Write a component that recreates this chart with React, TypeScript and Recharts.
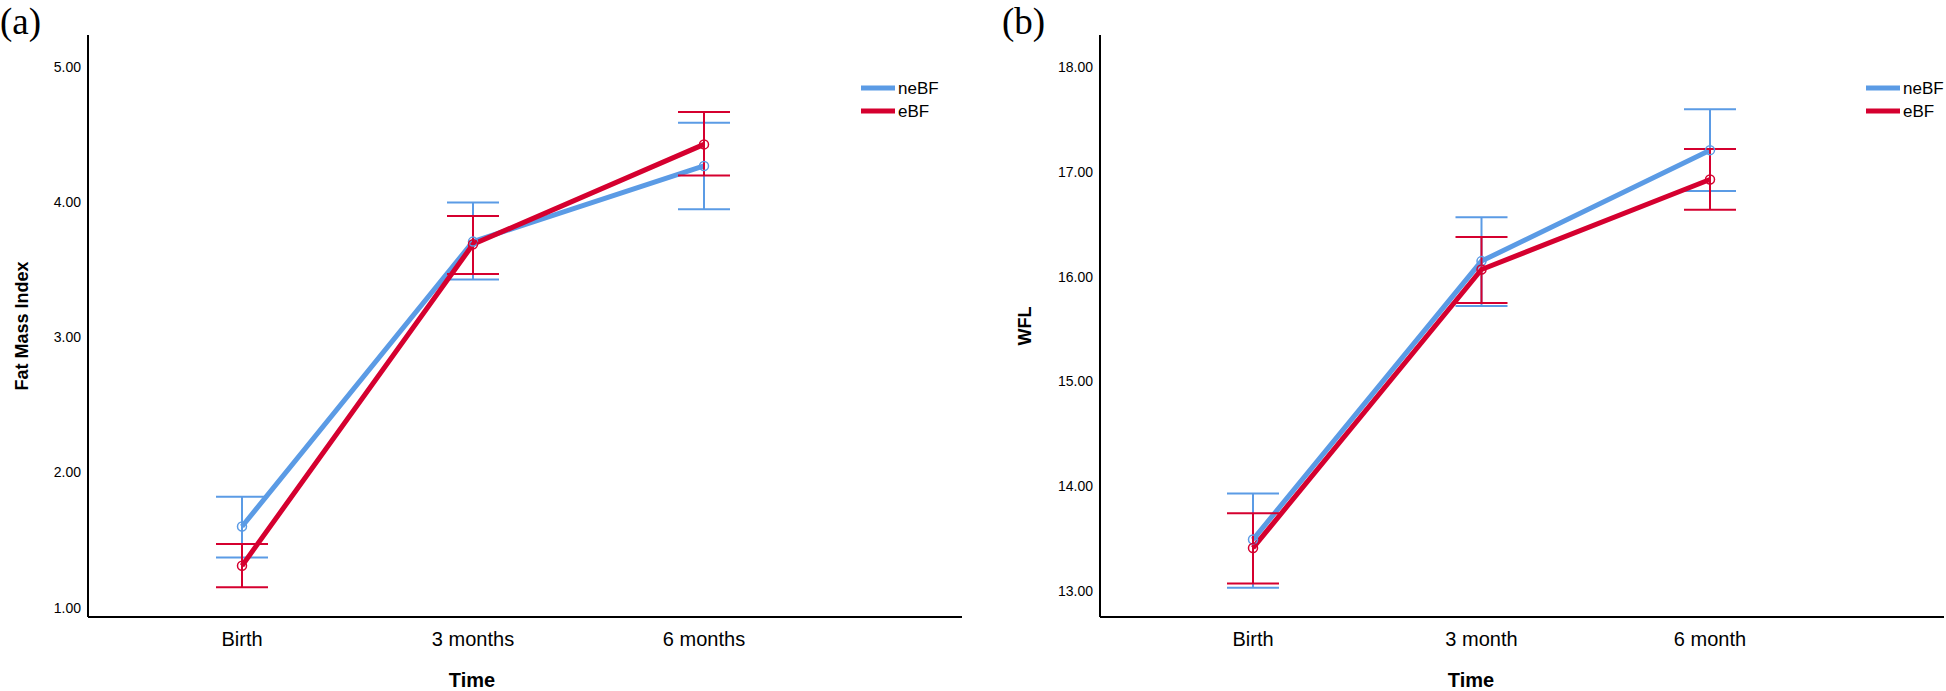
import React from 'react';
import { LineChart, Line, XAxis, YAxis, ErrorBar, Legend } from 'recharts';

// (a) fat mass index
const fmiCategories = ['Birth', '3 months', '6 months'];
const fmiNeBF = [1.6, 3.71, 4.27];
const fmiNeBFLow = [1.37, 3.43, 3.95];
const fmiNeBFHigh = [1.82, 4.0, 4.59];
const fmiEBF = [1.31, 3.69, 4.43];
const fmiEBFLow = [1.15, 3.47, 4.2];
const fmiEBFHigh = [1.47, 3.9, 4.67];
const fmiTicks = [1, 2, 3, 4, 5];

// (b) WFL
const wflCategories = ['Birth', '3 month', '6 month'];
const wflNeBF = [13.49, 16.15, 17.21];
const wflNeBFLow = [13.03, 15.72, 16.82];
const wflNeBFHigh = [13.93, 16.57, 17.6];
const wflEBF = [13.41, 16.07, 16.93];
const wflEBFLow = [13.07, 15.75, 16.64];
const wflEBFHigh = [13.74, 16.38, 17.22];
const wflTicks = [13, 14, 15, 16, 17, 18];

const BLUE = '#5b9be5';
const RED = '#d5002f';
const FONT = '"Liberation Sans", Arial, sans-serif';

const buildRows = (
  cats: string[],
  ne: number[],
  neLo: number[],
  neHi: number[],
  e: number[],
  eLo: number[],
  eHi: number[]
) =>
  cats.map((name, i) => ({
    name,
    neBF: ne[i],
    neErr: [ne[i] - neLo[i], neHi[i] - ne[i]],
    eBF: e[i],
    eErr: [e[i] - eLo[i], eHi[i] - e[i]],
  }));

const LegendBox = () => (
  <svg width={84} height={50} style={{ overflow: 'visible', display: 'block' }}>
    <line x1={3} x2={37} y1={12} y2={12} stroke={BLUE} strokeWidth={5} />
    <line x1={3} x2={37} y1={35} y2={35} stroke={RED} strokeWidth={5} />
    <text x={40} y={12} dominantBaseline="central" fontSize={17} fontFamily={FONT} fill="#000">
      neBF
    </text>
    <text x={40} y={35} dominantBaseline="central" fontSize={17} fontFamily={FONT} fill="#000">
      eBF
    </text>
  </svg>
);

interface PanelProps {
  data: ReturnType<typeof buildRows>;
  ticks: number[];
  domain: [number, number];
  yLabel: string;
  yWidth: number;
  yLabelDx: number;
  width: number;
  rightMargin: number;
  padLeft: number;
  padRight: number;
  timeDx: number;
  legendLeft: number;
}

const Panel = ({
  data,
  ticks,
  domain,
  yLabel,
  yWidth,
  yLabelDx,
  width,
  rightMargin,
  padLeft,
  padRight,
  timeDx,
  legendLeft,
}: PanelProps) => (
  <LineChart width={width} height={691} data={data} margin={{ top: 35, right: rightMargin, bottom: 0, left: 0 }}>
    <XAxis
      dataKey="name"
      scale="point"
      padding={{ left: padLeft, right: padRight }}
      height={74}
      axisLine={{ stroke: '#000', strokeWidth: 2 }}
      tickLine={false}
      tickSize={13}
      tick={{ fill: '#000', fontSize: 20, fontFamily: FONT }}
      label={{
        value: 'Time',
        position: 'center',
        dx: timeDx,
        dy: 26,
        fill: '#000',
        fontSize: 20,
        fontWeight: 'bold',
        fontFamily: FONT,
      }}
    />
    <YAxis
      type="number"
      domain={domain}
      allowDataOverflow
      ticks={ticks}
      interval={0}
      width={yWidth}
      axisLine={{ stroke: '#000', strokeWidth: 2 }}
      tickLine={false}
      tickSize={5}
      tickFormatter={(v: number) => v.toFixed(2)}
      tick={{ fill: '#000', fontSize: 14, fontFamily: FONT }}
      label={{
        value: yLabel,
        angle: -90,
        position: 'center',
        dx: yLabelDx,
        fill: '#000',
        fontSize: 18,
        fontWeight: 'bold',
        fontFamily: FONT,
      }}
    />
    <Legend
      layout="horizontal"
      align="center"
      verticalAlign="middle"
      content={() => <LegendBox />}
      wrapperStyle={{ left: legendLeft, top: 76, width: 84, height: 50 }}
    />
    <Line
      dataKey="neBF"
      type="linear"
      stroke={BLUE}
      strokeWidth={5}
      dot={{ r: 4.5, stroke: BLUE, strokeWidth: 1.5, fill: 'none' }}
      activeDot={false}
      isAnimationActive={false}
    >
      <ErrorBar dataKey="neErr" direction="y" width={26} stroke={BLUE} strokeWidth={2} isAnimationActive={false} />
    </Line>
    <Line
      dataKey="eBF"
      type="linear"
      stroke={RED}
      strokeWidth={5}
      dot={{ r: 4.5, stroke: RED, strokeWidth: 1.5, fill: 'none' }}
      activeDot={false}
      isAnimationActive={false}
    >
      <ErrorBar dataKey="eErr" direction="y" width={26} stroke={RED} strokeWidth={2} isAnimationActive={false} />
    </Line>
  </LineChart>
);

const panelLetter: React.CSSProperties = {
  position: 'absolute',
  top: 0,
  fontFamily: '"Liberation Serif", "Times New Roman", serif',
  fontSize: 37,
  lineHeight: 'normal',
  color: '#000',
};

const App = () => {
  const fmiData = buildRows(fmiCategories, fmiNeBF, fmiNeBFLow, fmiNeBFHigh, fmiEBF, fmiEBFLow, fmiEBFHigh);
  const wflData = buildRows(wflCategories, wflNeBF, wflNeBFLow, wflNeBFHigh, wflEBF, wflEBFLow, wflEBFHigh);

  return (
    <div style={{ position: 'absolute', left: 0, top: 0, width: 1946, height: 691, background: '#fff', overflow: 'hidden' }}>
      <div style={{ position: 'absolute', left: 0, top: 0 }}>
        <Panel
          data={fmiData}
          ticks={fmiTicks}
          domain={[0.93, 5.24]}
          yLabel="Fat Mass Index"
          yWidth={88}
          yLabelDx={-22}
          width={970}
          rightMargin={8}
          padLeft={154}
          padRight={258}
          timeDx={-53}
          legendLeft={858}
        />
      </div>
      <div style={{ position: 'absolute', left: 970, top: 0 }}>
        <Panel
          data={wflData}
          ticks={wflTicks}
          domain={[12.75, 18.31]}
          yLabel="WFL"
          yWidth={130}
          yLabelDx={-10}
          width={976}
          rightMargin={2}
          padLeft={153}
          padRight={234}
          timeDx={-51}
          legendLeft={893}
        />
      </div>
      <div style={{ ...panelLetter, left: 0 }}>(a)</div>
      <div style={{ ...panelLetter, left: 1002 }}>(b)</div>
    </div>
  );
};

export default App;
